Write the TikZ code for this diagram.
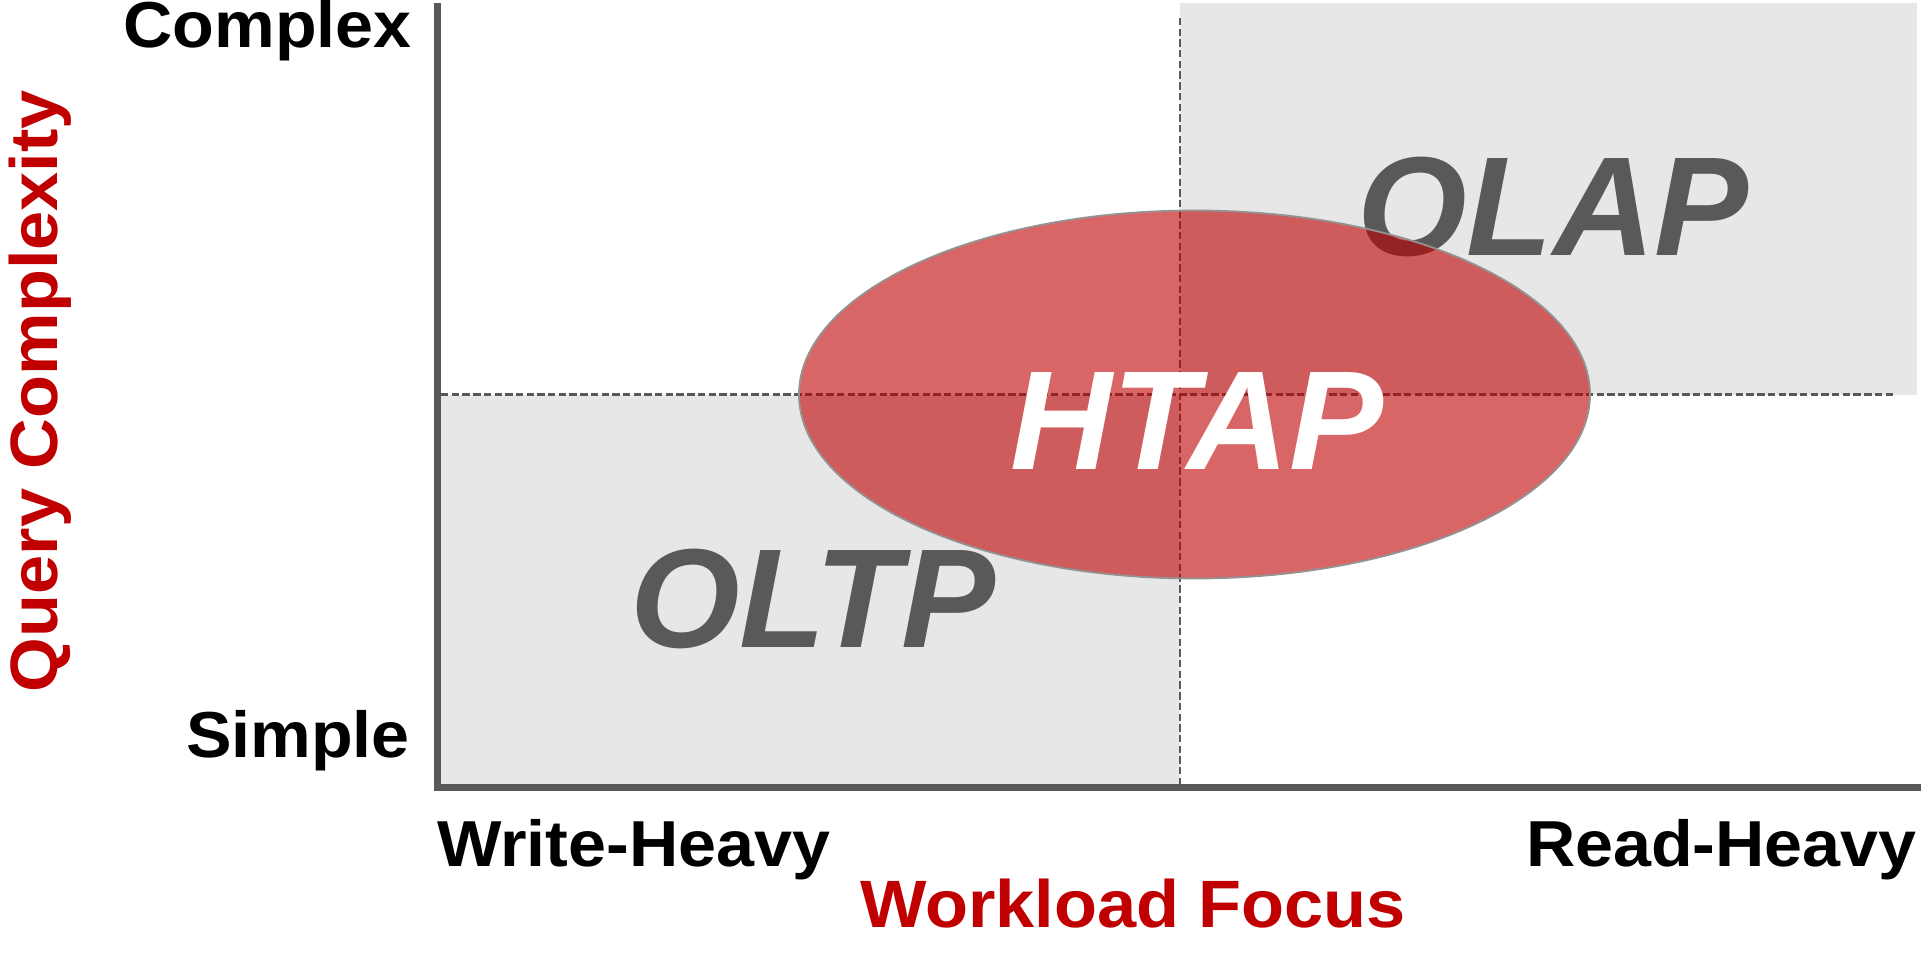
\documentclass[tikz,border=0pt]{standalone}
\usepackage{fontspec}
\setmainfont[FakeStretch=1.05]{Liberation Sans}
\newfontfamily\quadfont{Liberation Sans}
\usetikzlibrary{shapes.geometric}
\definecolor{axisgray}{HTML}{595959}
\definecolor{zonegray}{HTML}{E7E7E7}
\definecolor{accentred}{HTML}{C00000}
\tikzset{
  axisline/.style={draw=axisgray, line width=7pt},
  zone/.style={fill=zonegray, draw=none},
  guide/.style={draw=axisgray, line width=2.4pt, dash pattern=on 7.4pt off 3.3pt},
  ticklabel/.style={inner sep=0pt, font=\fontsize{65}{70}\selectfont\bfseries, text=black},
  axistitle/.style={inner sep=0pt, font=\fontsize{67}{72}\selectfont\bfseries, text=accentred},
  quadlabel/.style={inner sep=0pt, font=\quadfont\fontsize{141}{150}\selectfont\bfseries\itshape},
  blob/.style={ellipse, fill=accentred, fill opacity=0.6, draw=gray!85, line width=1.8pt,
               minimum width=791pt, minimum height=368pt, inner sep=0pt}
}
\begin{document}
\begin{tikzpicture}[x=1pt, y=-1pt]
  \useasboundingbox (0,0) rectangle (1921,966);

  % shaded quadrants
  \fill[zone] (441,394.5) rectangle (1180,785);
  \fill[zone] (1180,3.5) rectangle (1917,394.5);

  % quadrant guides
  \coordinate (vtop) at (1180,18);
  \coordinate (vbot) at (1180,785);
  \coordinate (hleft) at (441,394.5);
  \coordinate (hright) at (1893,394.5);
  \draw[guide] (vtop) -- (vbot);
  \draw[guide] (hleft) -- (hright);

  % axes
  \coordinate (origin) at (437.5,787);
  \coordinate (ytop) at (437.5,3);
  \coordinate (xend) at (1921,787);
  \draw[axisline] (ytop) -- (origin) -- (xend);

  % quadrant labels
  \node[quadlabel, text=axisgray] (olap) at (1553,207) {OLAP};
  \node[quadlabel, text=axisgray] (oltp) at (813,599) {OLTP};

  % hybrid region
  \node[blob] (hybrid) at (1194.5,394.5) {};
  \node[quadlabel, text=white] (htap) at (1197,421) {HTAP};

  % axis end labels
  \node[ticklabel, anchor=base east] (complex) at (412,48) {Complex};
  \node[ticklabel, anchor=base east] (simple) at (410,757) {Simple};
  \node[ticklabel, anchor=base west] (write) at (437,866) {Write-Heavy};
  \node[ticklabel, anchor=base east] (read) at (1917,866) {Read-Heavy};

  % axis titles
  \node[axistitle, anchor=base] (wfocus) at (1133,927) {Workload Focus};
  \node[axistitle, anchor=base, rotate=90] (qcomp) at (57,391) {Query Complexity};
\end{tikzpicture}
\end{document}
